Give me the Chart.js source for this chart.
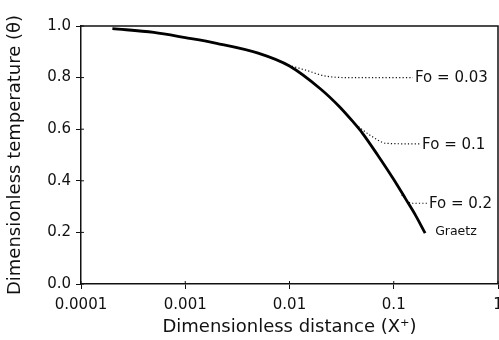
<!DOCTYPE html>
<html>
<head>
<meta charset="utf-8">
<script src="https://cdn.jsdelivr.net/npm/chart.js@4/dist/chart.umd.min.js"></script>
<style>
  body { margin: 0; background: #fff; }
</style>
</head>
<body>
<canvas id="chart" width="499" height="340"></canvas>
<script>
// ticks
const xTicks = [0.0001, 0.001, 0.01, 0.1, 1];
const xTickLabels = ["0.0001", "0.001", "0.01", "0.1", "1"];
const yTicks = [0, 0.2, 0.4, 0.6, 0.8, 1.0];

// Graetz curve
const graetzX = [0.0002, 0.0005, 0.001, 0.002, 0.005, 0.01, 0.02, 0.03, 0.04, 0.05, 0.07, 0.1, 0.13, 0.16, 0.2];
const graetzY = [0.99, 0.975, 0.955, 0.933, 0.895, 0.845, 0.755, 0.688, 0.632, 0.585, 0.5, 0.405, 0.33, 0.27, 0.197];

// Fourier number branches (dotted)
const fo003X = [0.0098, 0.014, 0.0228, 0.04, 0.153];
const fo003Y = [0.848, 0.83, 0.805, 0.8, 0.8];
const fo01X = [0.0458, 0.06, 0.0859, 0.179];
const fo01Y = [0.61, 0.575, 0.545, 0.543];
const fo02X = [0.119, 0.149, 0.208];
const fo02Y = [0.345, 0.313, 0.313];

const seriesLabels = ["Graetz", "Fo = 0.03", "Fo = 0.1", "Fo = 0.2"];

const ink = "#111";
const pts = (xs, ys) => xs.map((x, i) => ({ x: x, y: ys[i] }));

// box round the plot, inner half of tick marks, curve labels
const decorPlugin = {
  id: "decor",
  afterDraw(chart) {
    const ctx = chart.ctx;
    const a = chart.chartArea;
    const xs = chart.scales.x;
    const ys = chart.scales.y;
    ctx.save();
    ctx.strokeStyle = ink;
    ctx.lineWidth = 1.5;
    ctx.beginPath();
    ctx.moveTo(a.left, a.top);
    ctx.lineTo(a.right, a.top);
    ctx.lineTo(a.right, a.bottom);
    ctx.stroke();

    ctx.lineWidth = 1;
    ctx.beginPath();
    xTicks.forEach((v) => {
      const px = xs.getPixelForValue(v);
      ctx.moveTo(px, a.bottom);
      ctx.lineTo(px, a.bottom - 3);
    });
    yTicks.forEach((v) => {
      const py = ys.getPixelForValue(v);
      ctx.moveTo(a.left, py);
      ctx.lineTo(a.left + 3, py);
    });
    ctx.stroke();

    // labels at the ends of the curves
    ctx.fillStyle = ink;
    ctx.textBaseline = "middle";
    ctx.textAlign = "left";
    chart.data.datasets.forEach((ds, i) => {
      const meta = chart.getDatasetMeta(i);
      const last = meta.data[meta.data.length - 1];
      if (i === 0) {
        ctx.font = "12.5px 'DejaVu Sans'";
        ctx.fillText(ds.label, last.x + 10, last.y - 1);
      } else {
        ctx.font = "15px 'DejaVu Sans'";
        ctx.fillText(ds.label, last.x + 2, last.y + 1);
      }
    });
    ctx.restore();
  },
};

const dotted = {
  borderColor: ink,
  borderWidth: 1.2,
  borderDash: [1.2, 2.2],
  pointRadius: 0,
  cubicInterpolationMode: "monotone",
  fill: false,
};

new Chart(document.getElementById("chart"), {
  type: "line",
  data: {
    datasets: [
      {
        label: seriesLabels[0],
        data: pts(graetzX, graetzY),
        borderColor: "#000",
        borderWidth: 2.8,
        pointRadius: 0,
        cubicInterpolationMode: "monotone",
        fill: false,
      },
      Object.assign({ label: seriesLabels[1], data: pts(fo003X, fo003Y) }, dotted),
      Object.assign({ label: seriesLabels[2], data: pts(fo01X, fo01Y) }, dotted),
      Object.assign({ label: seriesLabels[3], data: pts(fo02X, fo02Y) }, dotted),
    ],
  },
  options: {
    responsive: false,
    animation: false,
    layout: { padding: { top: 26, right: 1, left: 0, bottom: 0 } },
    plugins: {
      legend: { display: false },
      tooltip: { enabled: false },
    },
    scales: {
      x: {
        type: "logarithmic",
        min: 0.0001,
        max: 1,
        afterBuildTicks: (s) => {
          s.ticks = xTicks.map((v) => ({ value: v }));
        },
        afterFit: (s) => {
          s.paddingLeft = 0;
          s.paddingRight = 0;
          s.height = 56;
        },
        ticks: {
          color: ink,
          font: { family: "DejaVu Sans", size: 15 },
          padding: 7,
          maxRotation: 0,
          autoSkip: false,
          callback: (v, i) => xTickLabels[i],
        },
        grid: { drawOnChartArea: false, drawTicks: true, tickLength: 5, color: ink },
        border: { display: true, color: ink, width: 1.5 },
        title: {
          display: true,
          text: "Dimensionless distance (X\u207A)",
          color: ink,
          font: { family: "DejaVu Sans", size: 18 },
          padding: { top: 0, bottom: 2 },
        },
      },
      y: {
        type: "linear",
        min: 0,
        max: 1,
        afterBuildTicks: (s) => {
          s.ticks = yTicks.map((v) => ({ value: v }));
        },
        afterFit: (s) => {
          s.width = 81;
          s.paddingTop = 0;
          s.paddingBottom = 0;
        },
        ticks: {
          color: ink,
          font: { family: "DejaVu Sans", size: 15 },
          padding: 5,
          callback: (v) => v.toFixed(1),
        },
        grid: { drawOnChartArea: false, drawTicks: true, tickLength: 5, color: ink },
        border: { display: true, color: ink, width: 1.5 },
        title: {
          display: true,
          text: "Dimensionless temperature (\u03B8)",
          color: ink,
          font: { family: "DejaVu Sans", size: 18 },
          padding: { top: 5, bottom: 0 },
        },
      },
    },
  },
  plugins: [decorPlugin],
});
</script>
</body>
</html>
